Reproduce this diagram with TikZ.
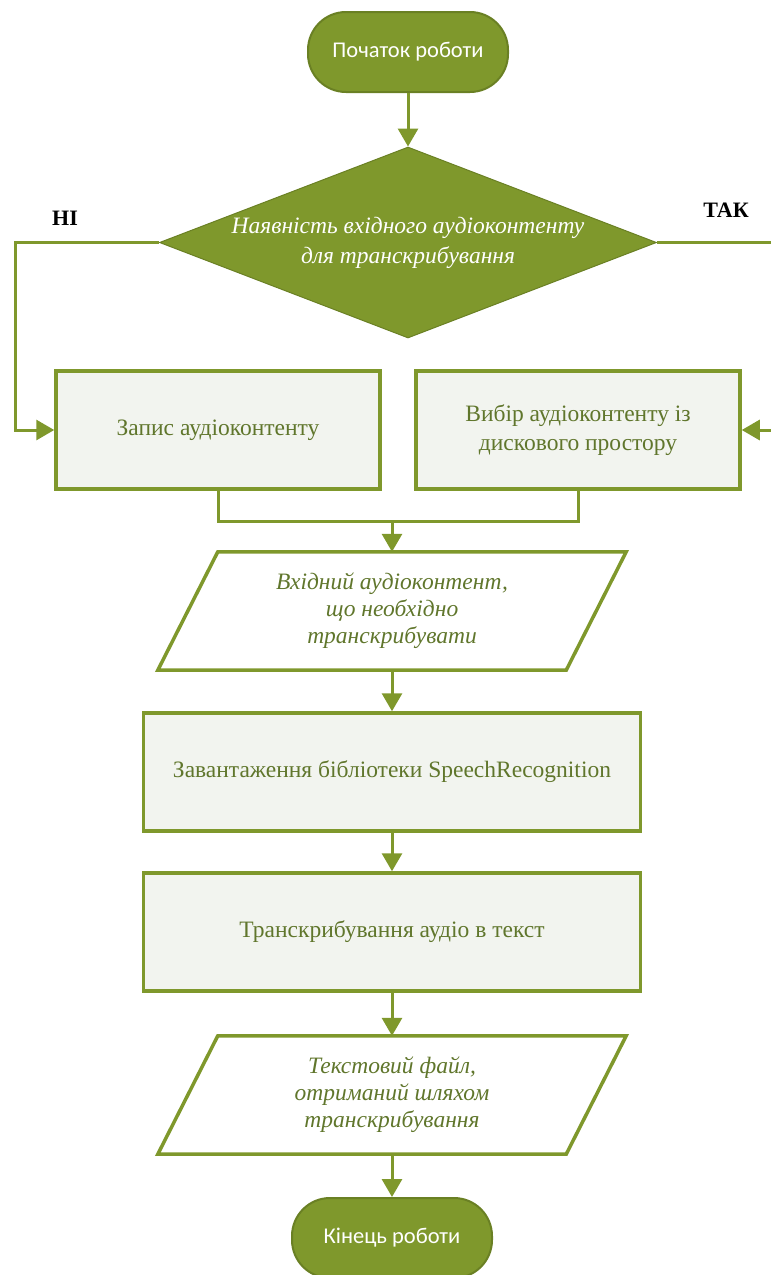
\documentclass[tikz,border=0pt]{standalone}
\usepackage{fontspec}
\setmainfont{Liberation Serif}
\newfontfamily\termfont{Carlito}
\usetikzlibrary{arrows.meta,calc,positioning,shapes.geometric}

\definecolor{olive}{RGB}{127,152,44}
\definecolor{oliveedge}{RGB}{106,128,36}
\definecolor{boxfill}{RGB}{242,244,239}
\definecolor{boxtext}{RGB}{96,118,44}

\begin{document}
\begin{tikzpicture}[x=1pt, y=-1pt, >={Triangle[length=18pt,width=20pt]},
  terminal/.style={rectangle, rounded corners=38pt, fill=olive, draw=oliveedge,
    line width=2pt, minimum width=200pt, minimum height=80pt, text=white,
    font=\termfont\fontsize{22.5}{26}\selectfont},
  decision/.style={diamond, aspect=2.6, fill=olive, draw=oliveedge, line width=1pt,
    minimum width=497pt, minimum height=191pt, inner sep=0pt, text=white,
    align=center, font=\itshape\fontsize{23.5}{30}\selectfont},
  process/.style={rectangle, fill=boxfill, draw=olive, line width=3.5pt,
    text=boxtext, align=center, font=\fontsize{23.5}{29}\selectfont},
  iobox/.style={rectangle, minimum width=408pt, minimum height=118pt,
    text=boxtext, align=center, font=\itshape\fontsize{23.5}{27}\selectfont},
  slant/.style={draw=olive, line width=3.5pt, line join=miter},
  flow/.style={draw=olive, line width=3pt},
  branch/.style={font=\bfseries\fontsize{22}{24}\selectfont},
]
  \useasboundingbox (0,0) rectangle (771,1275);

  % Start
  \node[terminal] (start) at (408,52) {Початок роботи};

  % Condition
  \node[decision] (check) at (408,242.5) {Наявність вхідного аудіоконтенту\\для транскрибування};
  \node[branch] (no) at (65,218.5) {НІ};
  \node[branch] (yes) at (726,210.5) {ТАК};

  % Two sources of audio
  \node[process, minimum width=324pt, minimum height=118pt] (rec) at (218,430) {Запис аудіоконтенту};
  \node[process, minimum width=324pt, minimum height=118pt] (pick) at (578,430) {Вибір аудіоконтенту із\\дискового простору};

  % Input data
  \node[iobox] (inp) at (392,611) {Вхідний аудіоконтент,\\що необхідно\\транскрибувати};
  \draw[slant] ([xshift=30pt]inp.north west) -- ([xshift=30pt]inp.north east)
    -- ([xshift=-30pt]inp.south east) -- ([xshift=-30pt]inp.south west) -- cycle;

  % Processing steps
  \node[process, minimum width=497pt, minimum height=118pt] (load) at (392,772) {Завантаження бібліотеки SpeechRecognition};
  \node[process, minimum width=497pt, minimum height=118pt] (trans) at (392,932) {Транскрибування аудіо в текст};

  % Output data
  \node[iobox] (outp) at (392,1095) {Текстовий файл,\\отриманий шляхом\\транскрибування};
  \draw[slant] ([xshift=30pt]outp.north west) -- ([xshift=30pt]outp.north east)
    -- ([xshift=-30pt]outp.south east) -- ([xshift=-30pt]outp.south west) -- cycle;

  % End
  \node[terminal] (finish) at (392,1238) {Кінець роботи};

  % Connectors
  \coordinate (merge) at (392,521);
  \draw[flow,->] (start) -- (check);
  \draw[flow,->] (check.west) -| ([xshift=-39pt]rec.west) -- (rec.west);
  \draw[flow,->] (check.east) -| ([xshift=40pt]pick.east) -- (pick.east);
  \draw[flow] (rec.south) |- (merge) -| (pick.south);
  \draw[flow,->] (merge) -- (inp.north);
  \draw[flow,->] (inp.south) -- (load.north);
  \draw[flow,->] (load.south) -- (trans.north);
  \draw[flow,->] (trans.south) -- (outp.north);
  \draw[flow,->] (outp.south) -- (finish.north);

\end{tikzpicture}
\end{document}
